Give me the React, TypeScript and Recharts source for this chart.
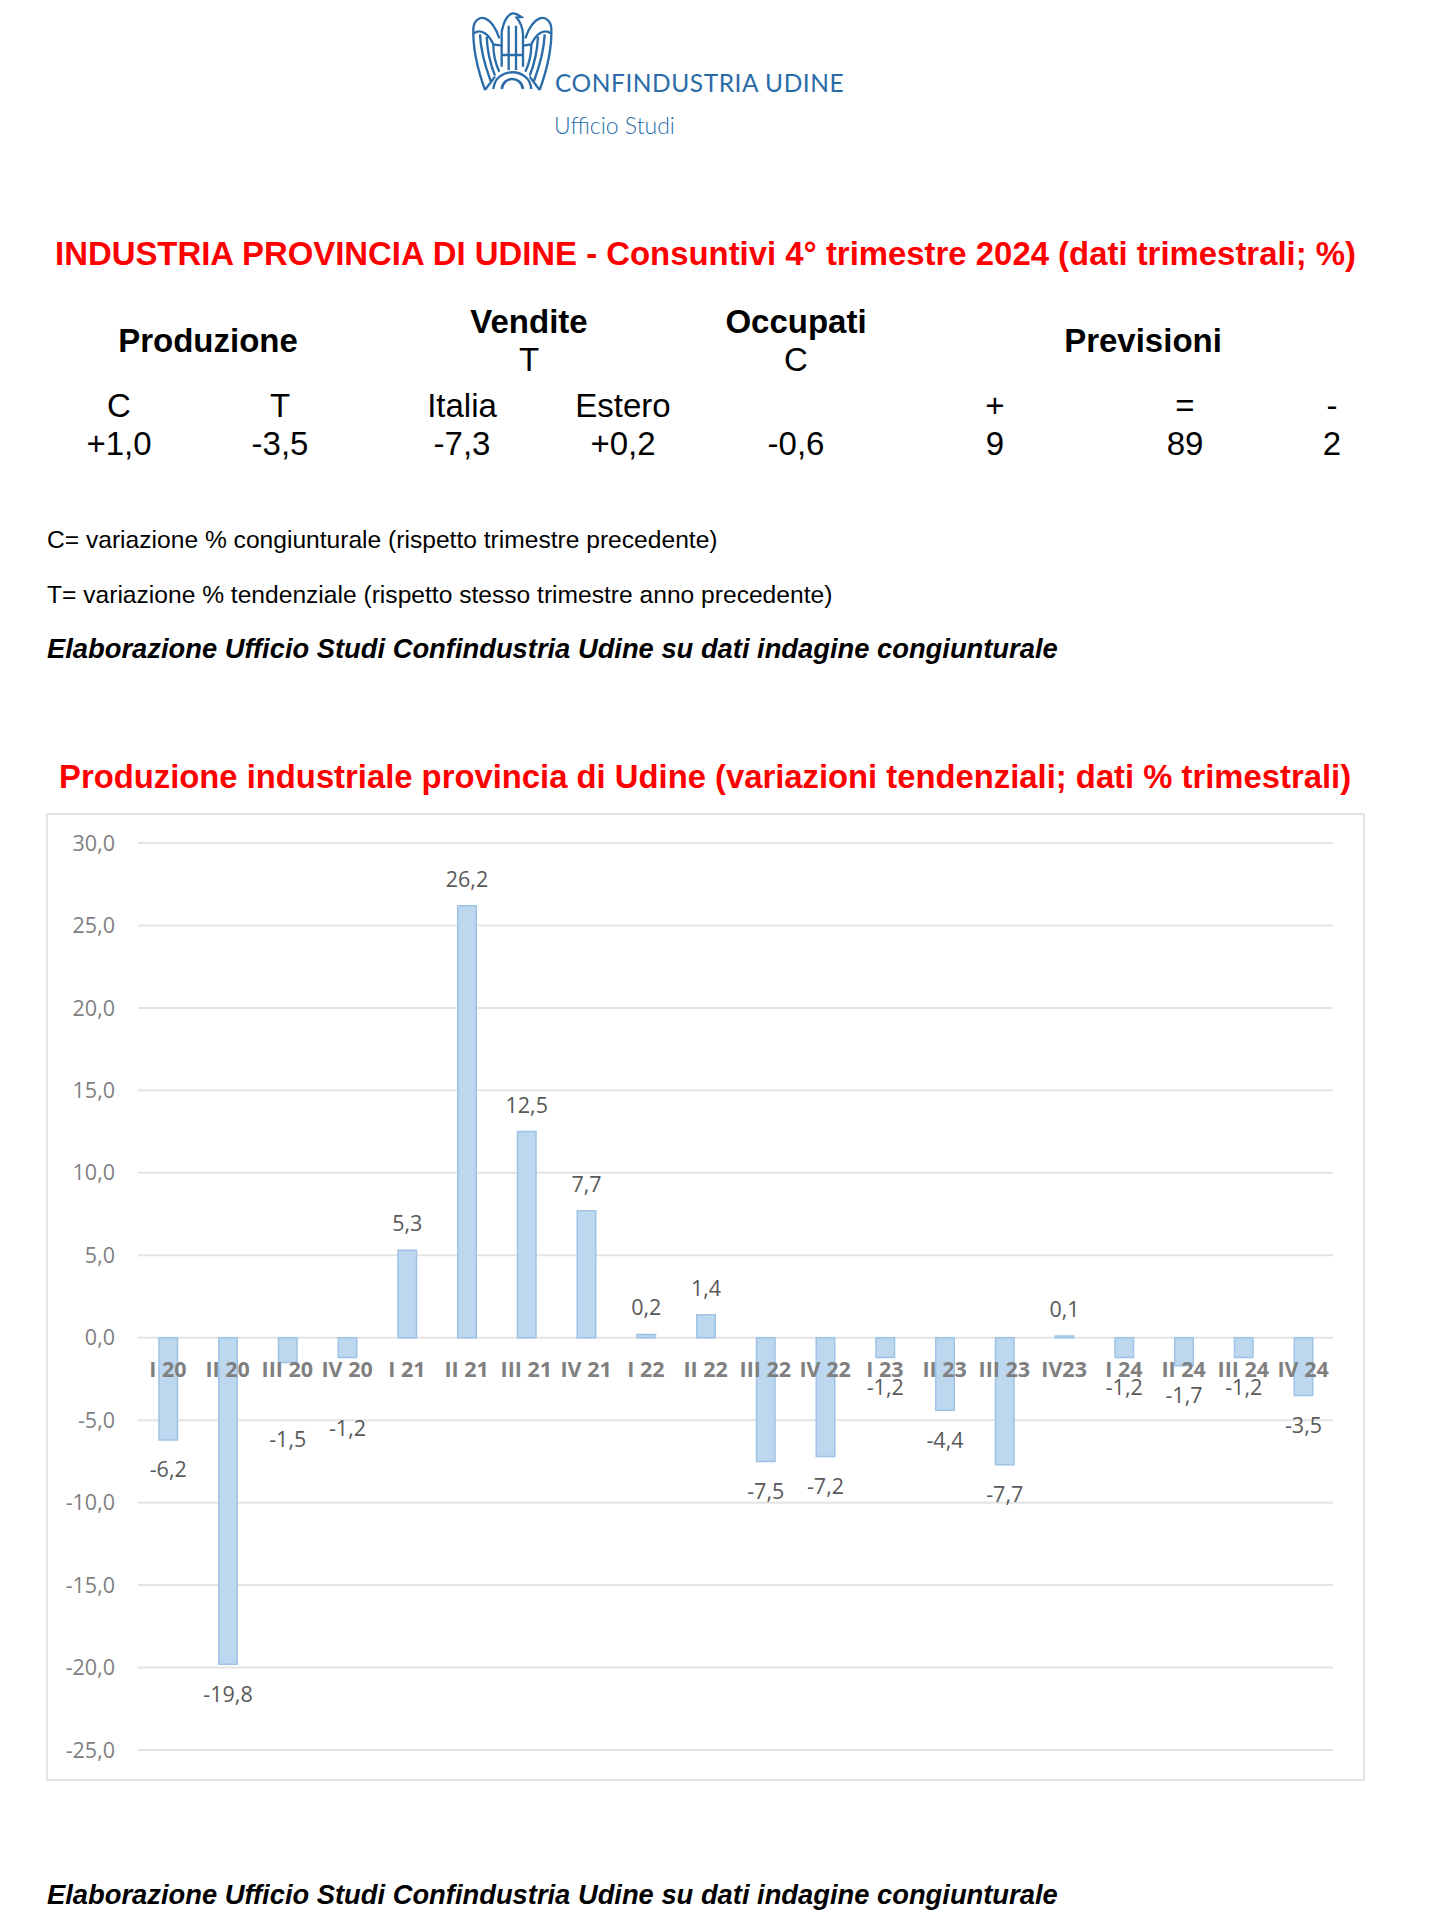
import React from 'react';
import { Bar, BarChart, CartesianGrid, LabelList, XAxis, YAxis } from 'recharts';

// trimestri
const QUARTERS = [
  'I 20', 'II 20', 'III 20', 'IV 20',
  'I 21', 'II 21', 'III 21', 'IV 21',
  'I 22', 'II 22', 'III 22', 'IV 22',
  'I 23', 'II 23', 'III 23', 'IV23',
  'I 24', 'II 24', 'III 24', 'IV 24',
];

// variazioni tendenziali %
const VALUES = [
  -6.2, -19.8, -1.5, -1.2,
  5.3, 26.2, 12.5, 7.7,
  0.2, 1.4, -7.5, -7.2,
  -1.2, -4.4, -7.7, 0.1,
  -1.2, -1.7, -1.2, -3.5,
];

const Y_TICKS = [30, 25, 20, 15, 10, 5, 0, -5, -10, -15, -20, -25];

const HEADINGS = ['Produzione', 'Vendite', 'Occupati', 'Previsioni'];
const SUB_HEADINGS = ['T', 'C'];
const COLUMN_NAMES = ['C', 'T', 'Italia', 'Estero', '+', '=', '-'];
const SUMMARY_VALUES = ['+1,0', '-3,5', '-7,3', '+0,2', '-0,6', '9', '89', '2'];

const chartData = QUARTERS.map((quarter, i) => ({ quarter, value: VALUES[i] }));

const CHART_W = 1445;
const CHART_H = 1000;
const CHART_TOP = 800;
const PLOT_TOP = 43;
const PLOT_H = 907;
const X_AXIS_H = 30;
const Y_MAX = 30;
const Y_MIN = -25;
const ZERO_Y = PLOT_TOP + (Y_MAX / (Y_MAX - Y_MIN)) * PLOT_H;

const FONT = '"Open Sans", sans-serif';
const BLUE = '#2a6ca8';

const fmt = (v: number) => v.toFixed(1).replace('.', ',');

// etichette spostate a mano nel grafico originale
const LABEL_SHIFT: Record<string, number> = { 'III 20': 47.5, 'IV 20': 40.5 };

function QuarterTick({ x, payload }: any) {
  return (
    <text
      x={x}
      y={ZERO_Y + 39}
      textAnchor="middle"
      fontFamily={FONT}
      fontSize={21.5}
      fontWeight={700}
      fill="#7f7f7f"
    >
      {payload.value}
    </text>
  );
}

function ValueLabel({ x, y, width, height, value, index }: any) {
  const cx = x + width / 2;
  const negative = value < 0;
  const shift = LABEL_SHIFT[QUARTERS[index]] ?? 0;
  const edge = negative ? Math.max(y, y + height) : Math.min(y, y + height);
  const ty = negative ? edge + 37.5 + shift : edge - 19;
  return (
    <text x={cx} y={ty} textAnchor="middle" fontFamily={FONT} fontSize={21.5} fill="#595959">
      {fmt(value)}
    </text>
  );
}

function T({ x, y, size, bold, italic, color, anchor, children }: any) {
  const style: React.CSSProperties = {
    position: 'absolute',
    top: y,
    left: x,
    transform: anchor === 'middle' ? 'translateX(-50%)' : undefined,
    fontFamily: '"Liberation Sans", Arial, sans-serif',
    fontSize: size,
    fontWeight: bold ? 700 : 400,
    fontStyle: italic ? 'italic' : 'normal',
    color: color ?? '#000',
    lineHeight: 1,
    whiteSpace: 'nowrap',
  };
  return <div style={style}>{children}</div>;
}

function Wing() {
  return (
    <g>
      <path d="M75 255 C55 200 38 130 40 70 C42 45 60 35 75 40 C95 48 108 70 118 100" />
      <path d="M75 255 L105 215" />
      <path d="M42 85 C60 70 85 85 100 118 L125 122" />
      <path d="M60 88 C62 140 78 190 92 228" />
      <path d="M80 95 C82 140 92 180 105 212" />
      <path d="M100 118 C100 150 108 180 118 200" />
    </g>
  );
}

function Logo() {
  return (
    <svg
      width={110}
      height={95}
      viewBox="0 0 330 285"
      style={{ position: 'absolute', left: 460, top: 5 }}
      fill="none"
      stroke={BLUE}
      strokeWidth={7}
    >
      <Wing />
      <g transform="translate(314 0) scale(-1 1)">
        <Wing />
      </g>
      <path d="M125 185 V80 C130 55 138 32 155 26 C165 22 175 30 184 36 L170 38 C180 50 189 70 189 90 V185" />
      <path d="M146 62 V195 M168 62 V195 M125 150 H189" />
      <path d="M100 252 C106 185 208 185 214 252" />
      <path d="M125 252 C130 212 184 212 189 252" strokeWidth={8} />
    </svg>
  );
}

export default function App() {
  return (
    <div style={{ position: 'absolute', left: 0, top: 0, width: 1445, height: 1920, background: '#fff', overflow: 'hidden' }}>
      <Logo />
      <div style={{ position: 'absolute', left: 555, top: 68, fontFamily: 'Lato, sans-serif', fontWeight: 400, fontSize: 24.5, letterSpacing: 0.55, color: BLUE, whiteSpace: 'nowrap' }}>
        CONFINDUSTRIA UDINE
      </div>
      <div style={{ position: 'absolute', left: 554, top: 111, fontFamily: 'Lato, sans-serif', fontWeight: 300, fontSize: 23, color: BLUE, whiteSpace: 'nowrap' }}>
        Ufficio Studi
      </div>

      <T x={55} y={238} size={32.9} bold color="#ff0000">
        INDUSTRIA PROVINCIA DI UDINE - Consuntivi 4° trimestre 2024 (dati trimestrali; %)
      </T>

      <T x={208} y={324} size={33} bold anchor="middle">{HEADINGS[0]}</T>
      <T x={529} y={305} size={33} bold anchor="middle">{HEADINGS[1]}</T>
      <T x={796} y={305} size={33} bold anchor="middle">{HEADINGS[2]}</T>
      <T x={1143} y={324} size={33} bold anchor="middle">{HEADINGS[3]}</T>
      <T x={529} y={343} size={33} anchor="middle">{SUB_HEADINGS[0]}</T>
      <T x={796} y={343} size={33} anchor="middle">{SUB_HEADINGS[1]}</T>

      {[119, 280, 462, 623, 995, 1185, 1332].map((x, i) => (
        <T key={COLUMN_NAMES[i]} x={x} y={389} size={33} anchor="middle">{COLUMN_NAMES[i]}</T>
      ))}
      {[119, 280, 462, 623, 796, 995, 1185, 1332].map((x, i) => (
        <T key={i} x={x} y={427} size={33} anchor="middle">{SUMMARY_VALUES[i]}</T>
      ))}

      <T x={47} y={528} size={24.6}>C= variazione % congiunturale (rispetto trimestre precedente)</T>
      <T x={47} y={583} size={24.6}>T= variazione % tendenziale (rispetto stesso trimestre anno precedente)</T>
      <T x={47} y={635} size={27.33} bold italic>Elaborazione Ufficio Studi Confindustria Udine su dati indagine congiunturale</T>

      <T x={59} y={761} size={32.8} bold color="#ff0000">
        Produzione industriale provincia di Udine (variazioni tendenziali; dati % trimestrali)
      </T>

      <div style={{ position: 'absolute', left: 46, top: 813, width: 1319, height: 968, border: '2px solid #e4e4e4', boxSizing: 'border-box' }} />

      <div style={{ position: 'absolute', left: 0, top: CHART_TOP }}>
        <BarChart
          width={CHART_W}
          height={CHART_H}
          data={chartData}
          margin={{ top: PLOT_TOP, right: CHART_W - 1333, bottom: CHART_H - PLOT_TOP - PLOT_H - X_AXIS_H, left: 0 }}
        >
          <CartesianGrid vertical={false} stroke="#e4e4e4" strokeWidth={2} />
          <YAxis
            width={138}
            domain={[Y_MIN, Y_MAX]}
            ticks={Y_TICKS}
            interval={0}
            axisLine={false}
            tickLine={false}
            tickMargin={17}
            tickFormatter={fmt}
            tick={{ fontFamily: FONT, fontSize: 21.5, fill: '#7f7f7f' }}
          />
          <XAxis dataKey="quarter" height={X_AXIS_H} interval={0} axisLine={false} tickLine={false} tick={<QuarterTick />} />
          <Bar dataKey="value" barSize={18.5} fill="#bdd7ee" stroke="#9dc3e6" strokeWidth={1.5} isAnimationActive={false}>
            <LabelList dataKey="value" content={<ValueLabel />} />
          </Bar>
        </BarChart>
      </div>

      <T x={47} y={1881} size={27.33} bold italic>Elaborazione Ufficio Studi Confindustria Udine su dati indagine congiunturale</T>
    </div>
  );
}
